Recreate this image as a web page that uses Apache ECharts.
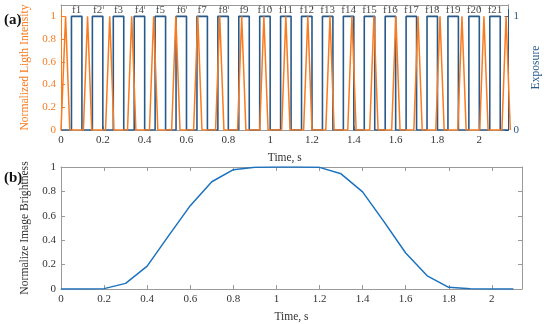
<!DOCTYPE html>
<html>
<head>
<meta charset="utf-8">
<script src="https://cdn.jsdelivr.net/npm/echarts/dist/echarts.min.js"></script>
<style>html,body{margin:0;padding:0;background:#fff;}#c{width:550px;height:324px;}</style>
</head>
<body>
<div id="c"></div>
<script>
// ---- data ----
var frameNames = ['f1','f2','f3','f4','f5','f6','f7','f8','f9','f10','f11','f12','f13','f14','f15','f16','f17','f18','f19','f20','f21'];
var exposureStart = [0.05,0.15,0.25,0.35,0.45,0.55,0.65,0.75,0.85,0.95,1.05,1.15,1.25,1.35,1.45,1.55,1.65,1.75,1.85,1.95,2.05];
var exposureEnd   = [0.10,0.20,0.30,0.40,0.50,0.60,0.70,0.80,0.90,1.00,1.10,1.20,1.30,1.40,1.50,1.60,1.70,1.80,1.90,2.00,2.10];
var pulseStart = [0.002,0.107,0.213,0.318,0.423,0.529,0.634,0.739,0.844,0.950,1.055,1.160,1.266,1.371,1.476,1.581,1.687,1.792,1.897,2.002,2.108];
var pulsePeak  = [0.022,0.127,0.233,0.338,0.443,0.549,0.654,0.759,0.864,0.970,1.075,1.180,1.286,1.391,1.496,1.601,1.707,1.812,1.917,2.022,2.128];
var pulseEnd   = [0.042,0.147,0.253,0.358,0.463,0.569,0.674,0.779,0.884,0.990,1.095,1.200,1.306,1.411,1.516,1.621,1.727,1.832,1.937,2.042,2.148];
var timeB = [0,0.1,0.2,0.3,0.4,0.5,0.6,0.7,0.8,0.9,1.0,1.1,1.2,1.3,1.4,1.5,1.6,1.7,1.8,1.9,2.0,2.1];
var brightness = [0,0,0.003,0.046,0.188,0.437,0.683,0.879,0.978,0.998,1.0,1.0,0.997,0.944,0.796,0.55,0.295,0.108,0.014,0.002,0,0];
var xTicks = [0,0.2,0.4,0.6,0.8,1,1.2,1.4,1.6,1.8,2];

// ---- build polylines ----
var lightLine = [[0,0]];
for (var i = 0; i < pulsePeak.length; i++) {
  lightLine.push([pulseStart[i],0],[pulsePeak[i],1],[pulseEnd[i],0]);
}
var expLine = [[0,0]];
for (var j = 0; j < exposureStart.length; j++) {
  expLine.push([exposureStart[j],0],[exposureStart[j],1],[exposureEnd[j],1],[exposureEnd[j],0]);
}
expLine.push([2.14,0]);
var frameLabels = frameNames.map(function(n,k){ return {name:n, value:[(exposureStart[k]+exposureEnd[k])/2, 1.055]}; });
var bLine = timeB.map(function(t,k){ return [t, brightness[k]]; });

var ORANGE = '#F97A1F', BLUE = '#27598A', BLUE2 = '#1B72BE', GRAY = '#9a9a9a', TXT = '#333';
var FONT = '"Liberation Serif", "DejaVu Serif", serif';

function xAx(grid, pos, labels, name, gap) {
  return {
    type:'value', gridIndex:grid, position:pos, min:0, max:2.14, interval:0.2,
    axisLine:{show:true, onZero:false, lineStyle:{color:GRAY, width:1}},
    axisTick:{show:true, inside:true, length:4, lineStyle:{color:GRAY}},
    axisLabel:{show:labels, showMaxLabel:false, color:TXT, fontFamily:FONT, fontSize:11, margin:5},
    splitLine:{show:false},
    name: name || '', nameLocation:'middle', nameGap:gap || 22,
    nameTextStyle:{color:TXT, fontFamily:FONT, fontSize:11.5}
  };
}

var chart = echarts.init(document.getElementById('c'), null, {renderer:'canvas'});
chart.setOption({
  animation:false,
  backgroundColor:'#fff',
  grid:[
    {left:61, top:5, width:461, height:125},
    {left:61, top:167, width:461, height:124}
  ],
  graphic:[
    {type:'text', left:4, top:13, style:{text:'(a)', font:'bold 15px '+FONT, fill:'#111'}},
    {type:'text', left:4, top:171, style:{text:'(b)', font:'bold 15px '+FONT, fill:'#111'}}
  ],
  xAxis:[
    xAx(0,'bottom',true,'Time, s',22),
    xAx(0,'top',false),
    xAx(1,'bottom',true,'Time, s',22),
    xAx(1,'top',false)
  ],
  yAxis:[
    {type:'value', gridIndex:0, position:'left', min:0, max:1.1, interval:0.2,
     axisLine:{show:true, onZero:false, lineStyle:{color:ORANGE}},
     axisTick:{show:true, inside:true, length:4, lineStyle:{color:ORANGE}},
     axisLabel:{showMaxLabel:false, color:ORANGE, fontFamily:FONT, fontSize:11, margin:5},
     splitLine:{show:false},
     name:'Normalized Ligth Intensity', nameLocation:'middle', nameGap:24,
     nameTextStyle:{color:ORANGE, fontFamily:FONT, fontSize:11.6}},
    {type:'value', gridIndex:0, position:'right', min:0, max:1.1, interval:1,
     axisLine:{show:true, onZero:false, lineStyle:{color:BLUE}},
     axisTick:{show:true, inside:true, length:4, lineStyle:{color:BLUE}},
     axisLabel:{showMaxLabel:false, color:BLUE, fontFamily:FONT, fontSize:11, margin:5},
     splitLine:{show:false},
     name:'Exposure', nameLocation:'middle', nameGap:18, nameRotate:90,
     nameTextStyle:{color:BLUE, fontFamily:FONT, fontSize:11.6}},
    {type:'value', gridIndex:1, position:'left', min:0, max:1, interval:0.2,
     axisLine:{show:true, onZero:false, lineStyle:{color:GRAY}},
     axisTick:{show:true, inside:true, length:4, lineStyle:{color:GRAY}},
     axisLabel:{color:TXT, fontFamily:FONT, fontSize:11, margin:5},
     splitLine:{show:false},
     name:'Normalize Image Brightness', nameLocation:'middle', nameGap:25,
     nameTextStyle:{color:TXT, fontFamily:FONT, fontSize:11.6}},
    {type:'value', gridIndex:1, position:'right', min:0, max:1, interval:0.2,
     axisLine:{show:true, onZero:false, lineStyle:{color:GRAY}},
     axisTick:{show:true, inside:true, length:4, lineStyle:{color:GRAY}},
     axisLabel:{show:false}, splitLine:{show:false}}
  ],
  series:[
    {type:'line', name:'Exposure', xAxisIndex:0, yAxisIndex:1, data:expLine, showSymbol:false, symbol:'none',
     lineStyle:{color:BLUE, width:1.6}, z:2, clip:true},
    {type:'line', name:'Light', xAxisIndex:0, yAxisIndex:0, data:lightLine, showSymbol:false, symbol:'none',
     lineStyle:{color:ORANGE, width:1.5}, z:3, clip:true},
    {type:'scatter', xAxisIndex:0, yAxisIndex:1, data:frameLabels, symbolSize:0, silent:true,
     label:{show:true, position:'inside', formatter:'{b}', color:'#222', fontFamily:FONT, fontSize:11}, z:4},
    {type:'line', name:'Brightness', xAxisIndex:2, yAxisIndex:2, data:bLine, showSymbol:false, symbol:'none',
     lineStyle:{color:BLUE2, width:1.5}, z:3}
  ]
});
</script>
</body>
</html>
